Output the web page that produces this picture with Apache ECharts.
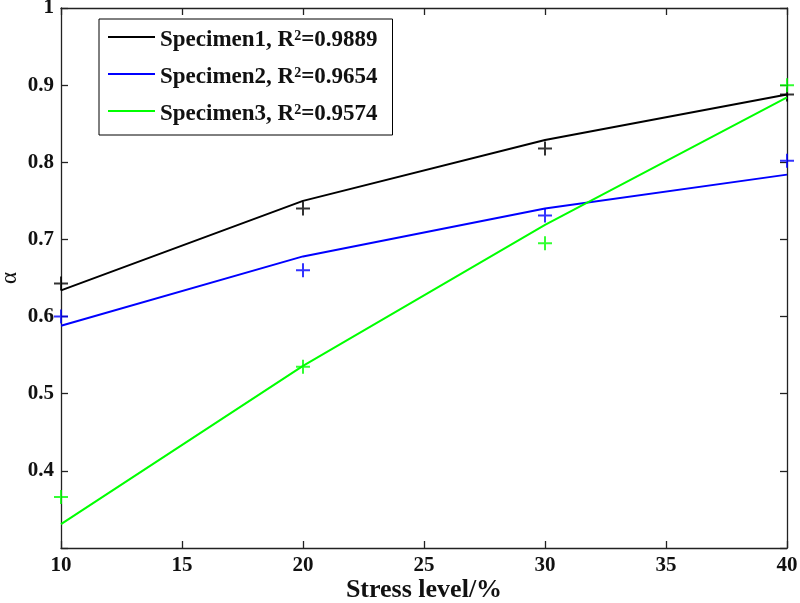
<!DOCTYPE html>
<html>
<head>
<meta charset="utf-8">
<script src="https://cdn.jsdelivr.net/npm/echarts@6/dist/echarts.min.js"></script>
<style>html,body{margin:0;padding:0;background:#fff}#c{width:800px;height:603px}</style>
</head>
<body>
<div id="c"></div>
<script>
// ---- data ----
const stressLevels = [10, 20, 30, 40];
const specimenNames = ['Specimen1', 'Specimen2', 'Specimen3'];
const r2Values = ['0.9889', '0.9654', '0.9574'];
const s1Measured = [0.643, 0.740, 0.818, 0.888];
const s2Measured = [0.600, 0.660, 0.731, 0.802];
const s3Measured = [0.366, 0.535, 0.695, 0.900];
const s1Fit = [0.634, 0.750, 0.829, 0.888];
const s2Fit = [0.588, 0.678, 0.740, 0.784];
const s3Fit = [0.331, 0.536, 0.719, 0.884];
const xTicks = [10, 15, 20, 25, 30, 35, 40];
const yTicks = [0.4, 0.5, 0.6, 0.7, 0.8, 0.9, 1];

const colors = ['#000000', '#0000ff', '#00ff00'];
const measured = [s1Measured, s2Measured, s3Measured];
const fits = [s1Fit, s2Fit, s3Fit];
const FONT = '"Liberation Serif","Times New Roman",serif';
const plus = 'path://M6,0 H8 V6 H14 V8 H8 V14 H6 V8 H0 V6 H6 Z';

function pairs(ys) { return stressLevels.map((x, i) => [x, ys[i]]); }
function legendName(i) { return specimenNames[i] + ', R2=' + r2Values[i]; }

const series = [];
measured.forEach((ys, i) => {
  series.push({
    type: 'scatter', data: pairs(ys), symbol: plus, symbolSize: 14,
    itemStyle: { color: colors[i] }, clip: false, z: 2, silent: true
  });
});
fits.forEach((ys, i) => {
  series.push({
    name: legendName(i), type: 'line', data: pairs(ys), showSymbol: false, symbol: 'none',
    lineStyle: { color: colors[i], width: 2 }, itemStyle: { color: colors[i] }, z: 3, silent: true
  });
});

const axisLine = { show: true, lineStyle: { color: '#222', width: 1.3 } };
const tickIn = { show: true, inside: true, length: 7, lineStyle: { color: '#222', width: 1.3 } };

const chart = echarts.init(document.getElementById('c'), null, { renderer: 'canvas' });
chart.setOption({
  animation: false,
  backgroundColor: '#fff',
  grid: { left: 61, right: 13, top: 8, bottom: 55, containLabel: false, outerBoundsMode: 'none' },
  legend: {
    orient: 'vertical', left: 99, top: 19,
    data: specimenNames.map((n, i) => ({ name: legendName(i), icon: 'rect' })),
    itemWidth: 47, itemHeight: 2, itemGap: 14,
    padding: [10, 15, 9, 9],
    borderColor: '#000', borderWidth: 1, backgroundColor: '#fff',
    selectedMode: false,
    formatter: function (name) { return name.replace('R2=', 'R{sup|2}='); },
    textStyle: {
      fontFamily: FONT, fontWeight: 'bold', fontSize: 23, color: '#111', padding: [7, 0, 0, 0],
      rich: { sup: { fontFamily: FONT, fontWeight: 'bold', fontSize: 14, color: '#111', verticalAlign: 'top', padding: [0, 0, 8, 0] } }
    }
  },
  xAxis: [{
    type: 'value', min: 10, max: 40, interval: 5, position: 'bottom',
    axisLine: axisLine, axisTick: tickIn, splitLine: { show: false },
    axisLabel: { fontFamily: FONT, fontWeight: 'bold', fontSize: 21, color: '#111', margin: 7,
      formatter: v => xTicks.includes(v) ? String(v) : '' },
    name: 'Stress level/%', nameLocation: 'middle', nameGap: 29, nameMoveOverlap: false,
    nameTextStyle: { fontFamily: FONT, fontWeight: 'bold', fontSize: 26, color: '#111' }
  }, {
    type: 'value', min: 10, max: 40, interval: 5, position: 'top',
    axisLine: axisLine, axisTick: tickIn, splitLine: { show: false }, axisLabel: { show: false }
  }],
  yAxis: [{
    type: 'value', min: 0.3, max: 1, interval: 0.1, position: 'left',
    axisLine: axisLine, axisTick: tickIn, splitLine: { show: false },
    axisLabel: { fontFamily: FONT, fontWeight: 'bold', fontSize: 21, color: '#111', margin: 7,
      formatter: v => { const r = Math.round(v * 10) / 10; return yTicks.includes(r) ? String(r) : ''; } },
    name: 'α', nameLocation: 'middle', nameGap: 40, nameRotate: 90, nameMoveOverlap: false,
    nameTextStyle: { fontFamily: FONT, fontSize: 23, color: '#111' }
  }, {
    type: 'value', min: 0.3, max: 1, interval: 0.1, position: 'right',
    axisLine: axisLine, axisTick: tickIn, splitLine: { show: false }, axisLabel: { show: false }
  }],
  series: series
});
</script>
</body>
</html>
